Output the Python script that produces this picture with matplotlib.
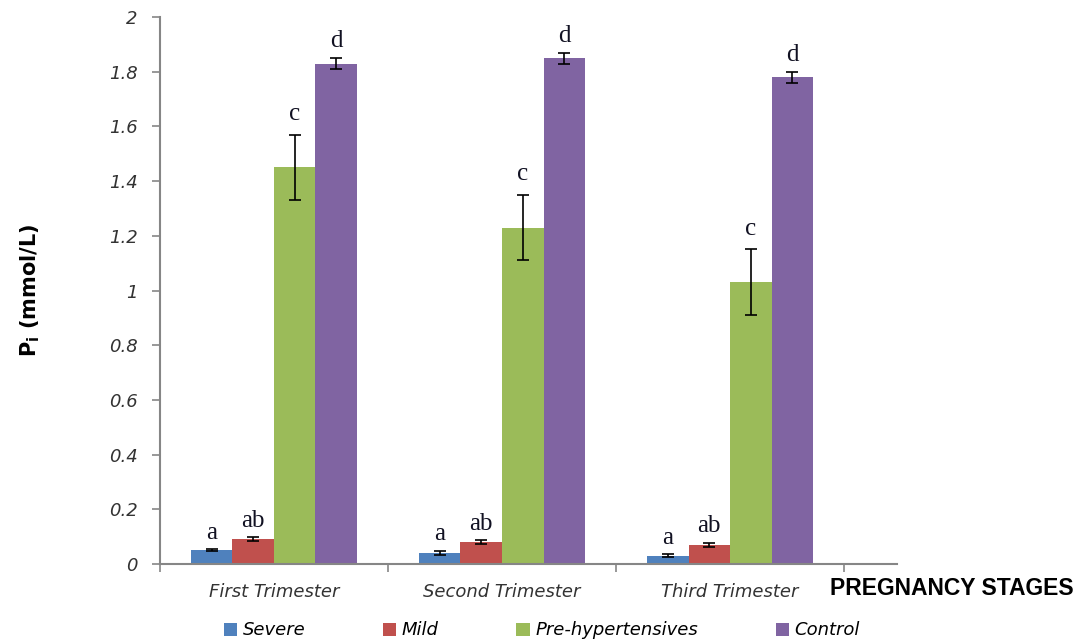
import numpy as np
import matplotlib.pyplot as plt

# serum inorganic phosphate across pregnancy stages
stages = ["First Trimester", "Second Trimester", "Third Trimester"]
groups = ["Severe", "Mild", "Pre-hypertensives", "Control"]

severe = [0.05, 0.04, 0.03]
mild = [0.09, 0.08, 0.07]
pre_hyp = [1.45, 1.23, 1.03]
control = [1.83, 1.85, 1.78]

severe_err = [0.004, 0.008, 0.006]
mild_err = [0.007, 0.006, 0.007]
pre_hyp_err = [0.12, 0.12, 0.12]
control_err = [0.02, 0.02, 0.02]

letters = ["a", "ab", "c", "d"]

colors = ["#4F81BD", "#C0504D", "#9BBB59", "#8064A2"]
axis_grey = "#868686"
label_grey = "#333333"

values = [severe, mild, pre_hyp, control]
errors = [severe_err, mild_err, pre_hyp_err, control_err]

fig = plt.figure(figsize=(10.88, 6.42), dpi=100)
ax = fig.add_axes([0.147, 0.1215, 0.677, 0.852])

x = np.arange(len(stages))
w = 0.182
for i, (vals, errs) in enumerate(zip(values, errors)):
    pos = x + (i - 1.5) * w
    ax.bar(pos, vals, width=w, color=colors[i], label=groups[i], zorder=2)
    ax.errorbar(pos, vals, yerr=errs, fmt="none", ecolor="black",
                elinewidth=1.2, capsize=4.5, capthick=1.2, zorder=3)
    for p, v, e in zip(pos, vals, errs):
        ax.annotate(letters[i], (p, v + e), xytext=(0, 4 if i != 2 else 7),
                    textcoords="offset points", ha="center", va="bottom",
                    fontsize=18, family="Liberation Serif", color="#111122")

ax.set_ylim(0, 2)
ax.set_xlim(-0.5, 2.73)
ax.set_yticks(np.arange(0, 2.01, 0.2))
ax.set_yticklabels(["0", "0.2", "0.4", "0.6", "0.8", "1", "1.2", "1.4",
                    "1.6", "1.8", "2"], fontstyle="italic", fontsize=13,
                   color=label_grey)
ax.set_xticks([-0.5, 0.5, 1.5, 2.5])
ax.set_xticklabels([])
ax.set_xticks(x, minor=True)
ax.set_xticklabels(stages, minor=True, fontstyle="italic", fontsize=13,
                   color=label_grey)
ax.tick_params(axis="x", which="minor", length=0, pad=14)
ax.tick_params(axis="x", which="major", length=6, color=axis_grey, width=1.2)
ax.tick_params(axis="y", length=6, color=axis_grey, width=1.2, pad=10)

for side in ["top", "right"]:
    ax.spines[side].set_visible(False)
for side in ["left", "bottom"]:
    ax.spines[side].set_color(axis_grey)
    ax.spines[side].set_linewidth(1.5)

ax.set_ylabel(r"$\mathbf{P_i}$ (mmol/L)", fontsize=15, fontweight="bold",
              labelpad=48)
fig.text(0.763, 0.083, "PREGNANCY STAGES", fontsize=16.5, fontweight="bold",
         family="Liberation Sans", ha="left", va="center")

leg = fig.legend(loc="center", bbox_to_anchor=(0.498, 0.018), ncol=4,
                 frameon=False, prop={"style": "italic", "size": 13},
                 handlelength=0.75, handleheight=0.75, handletextpad=0.3,
                 columnspacing=4.3)

fig.savefig("out.png", dpi=100)
